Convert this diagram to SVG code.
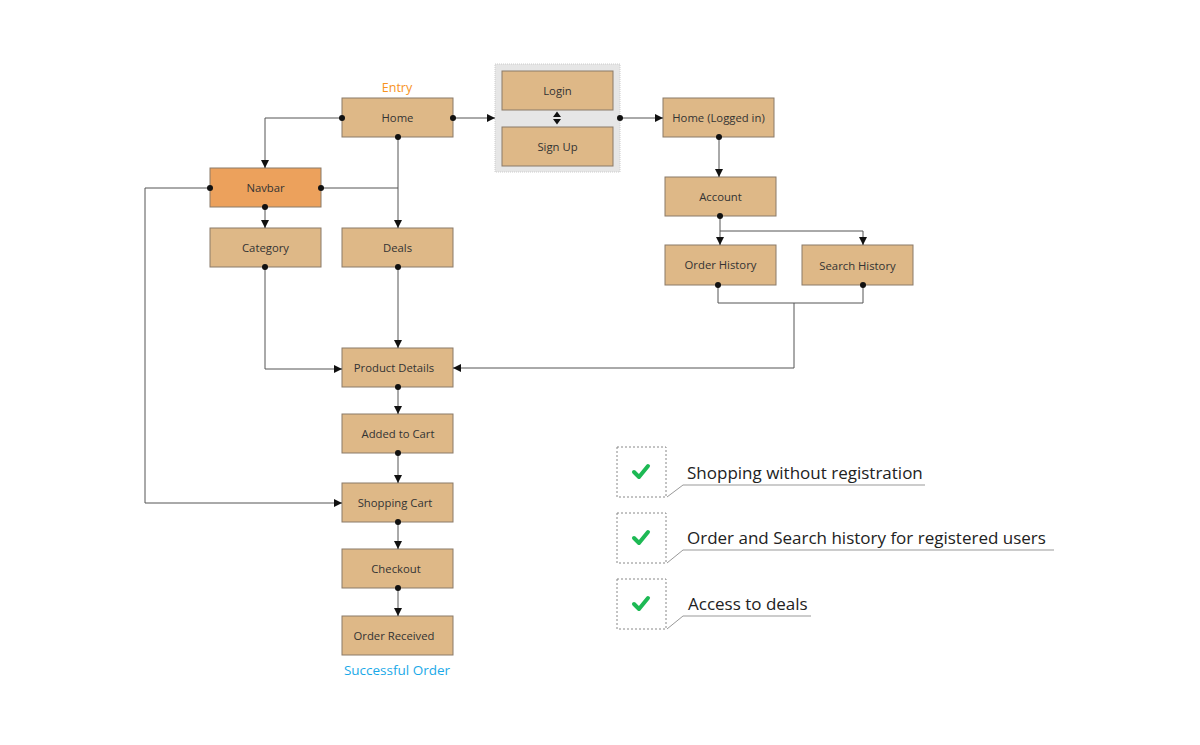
<svg xmlns="http://www.w3.org/2000/svg" width="1200" height="745" viewBox="0 0 1200 745">
<defs>
<marker id="arr" viewBox="0 0 10 10" refX="10" refY="5" markerWidth="8" markerHeight="8" markerUnits="userSpaceOnUse" orient="auto">
<path d="M0,0 L10,5 L0,10 Z" fill="#111"/>
</marker>
<marker id="dot" viewBox="0 0 10 10" refX="5" refY="5" markerWidth="6" markerHeight="6" markerUnits="userSpaceOnUse">
<circle cx="5" cy="5" r="5" fill="#111"/>
</marker>
<style>
.n rect{fill:#deb887;stroke:#8a7a68;stroke-width:1}
.n text{font-family:"Open Sans","Noto Sans",sans-serif;font-size:11.3px;fill:#333;text-anchor:middle;dominant-baseline:central}
.nav rect{fill:#eca15c}
.c path{fill:none;stroke:#555;stroke-width:1;marker-start:url(#dot);marker-end:url(#arr)}
.c path.nd{marker-end:none}
.lbl{font-family:"Open Sans","Noto Sans",sans-serif;text-anchor:middle}
.lg rect{fill:none;stroke:#888;stroke-width:1;stroke-dasharray:2 2}
.lg path.u{fill:none;stroke:#999;stroke-width:1}
.lg path.ck{fill:none;stroke:#1db954;stroke-width:4;stroke-linecap:round;stroke-linejoin:round}
.lg text{font-family:"Open Sans","Noto Sans",sans-serif;font-size:17px;fill:#222}
</style>
</defs>
<rect width="1200" height="745" fill="#fff"/>

<text class="lbl" x="397" y="92" fill="#f7931e" font-size="12.5">Entry</text>
<text class="lbl" x="397" y="675" fill="#1aa9e8" font-size="13.5">Successful Order</text>

<g id="auth">
<rect x="495" y="64" width="125" height="108" fill="#e6e6e6" stroke="#ccc" stroke-dasharray="1 1"/>
</g>

<g id="home" class="n"><rect x="342" y="98" width="111" height="39"/><text x="397.5" y="117.5">Home</text></g>
<g id="login" class="n"><rect x="502" y="71" width="111" height="39"/><text x="557.5" y="90.5">Login</text></g>
<g id="signup" class="n"><rect x="502" y="127" width="111" height="39"/><text x="557.5" y="146.5">Sign Up</text></g>
<g id="home-logged" class="n"><rect x="663" y="98" width="111" height="39"/><text x="718.5" y="117.5">Home (Logged in)</text></g>
<g id="navbar" class="n nav"><rect x="210" y="168" width="111" height="39"/><text x="265.5" y="187.5">Navbar</text></g>
<g id="category" class="n"><rect x="210" y="228" width="111" height="39"/><text x="265.5" y="247.5">Category</text></g>
<g id="deals" class="n"><rect x="342" y="228" width="111" height="39"/><text x="397.5" y="247.5">Deals</text></g>
<g id="account" class="n"><rect x="665" y="177" width="111" height="39"/><text x="720.5" y="196.5">Account</text></g>
<g id="order-history" class="n"><rect x="665" y="245" width="111" height="40"/><text x="720.5" y="264.5">Order History</text></g>
<g id="search-history" class="n"><rect x="802" y="245" width="111" height="40"/><text x="857.5" y="265.5">Search History</text></g>
<g id="product-details" class="n"><rect x="342" y="348" width="111" height="39"/><text x="394" y="367.5">Product Details</text></g>
<g id="added-to-cart" class="n"><rect x="342" y="414" width="111" height="39"/><text x="398" y="433.5">Added to Cart</text></g>
<g id="shopping-cart" class="n"><rect x="342" y="483" width="111" height="39"/><text x="395" y="502.5">Shopping Cart</text></g>
<g id="checkout" class="n"><rect x="342" y="549" width="111" height="39"/><text x="396" y="568.5">Checkout</text></g>
<g id="order-received" class="n"><rect x="342" y="616" width="111" height="39"/><text x="394" y="635.5">Order Received</text></g>

<g id="connectors" class="c">
<path d="M342,118 H265 V168"/>
<path d="M453,118 H495"/>
<path d="M620,118 H663"/>
<path d="M398,137 V228"/>
<path class="nd" d="M321,188 H398"/>
<path d="M210,188 H145 V503 H342"/>
<path d="M265,207 V228"/>
<path d="M265,267 V369 H342"/>
<path d="M398,267 V348"/>
<path d="M719,137 V177"/>
<path d="M720,216 V245"/>
<path d="M720,231 H863 V245" style="marker-start:none"/>
<path class="nd" d="M718,285 V303 H863 V285" style="marker-end:url(#dot)"/>
<path d="M794,303 V368 H453" style="marker-start:none"/>
<path d="M398,387 V414"/>
<path d="M398,453 V483"/>
<path d="M398,522 V549"/>
<path d="M398,588 V616"/>
<path d="M557,111.5 L553,117 H561 Z M557,124.5 L553,119 H561 Z" style="fill:#111;stroke:none;marker:none"/>
</g>

<g id="legend" class="lg">
<rect x="617" y="447" width="49" height="50"/>
<path class="ck" d="M634,472 L639,477 L648,466"/>
<path class="u" d="M667,497 L683,485 H925"/>
<text x="687" y="479">Shopping without registration</text>
<rect x="617" y="513" width="49" height="50"/>
<path class="ck" d="M634,538 L639,543 L648,532"/>
<path class="u" d="M667,563 L683,550 H1054"/>
<text x="687" y="544">Order and Search history for registered users</text>
<rect x="617" y="579" width="49" height="50"/>
<path class="ck" d="M634,604 L639,609 L648,598"/>
<path class="u" d="M667,629 L683,616 H811"/>
<text x="688" y="610">Access to deals</text>
</g>
</svg>
